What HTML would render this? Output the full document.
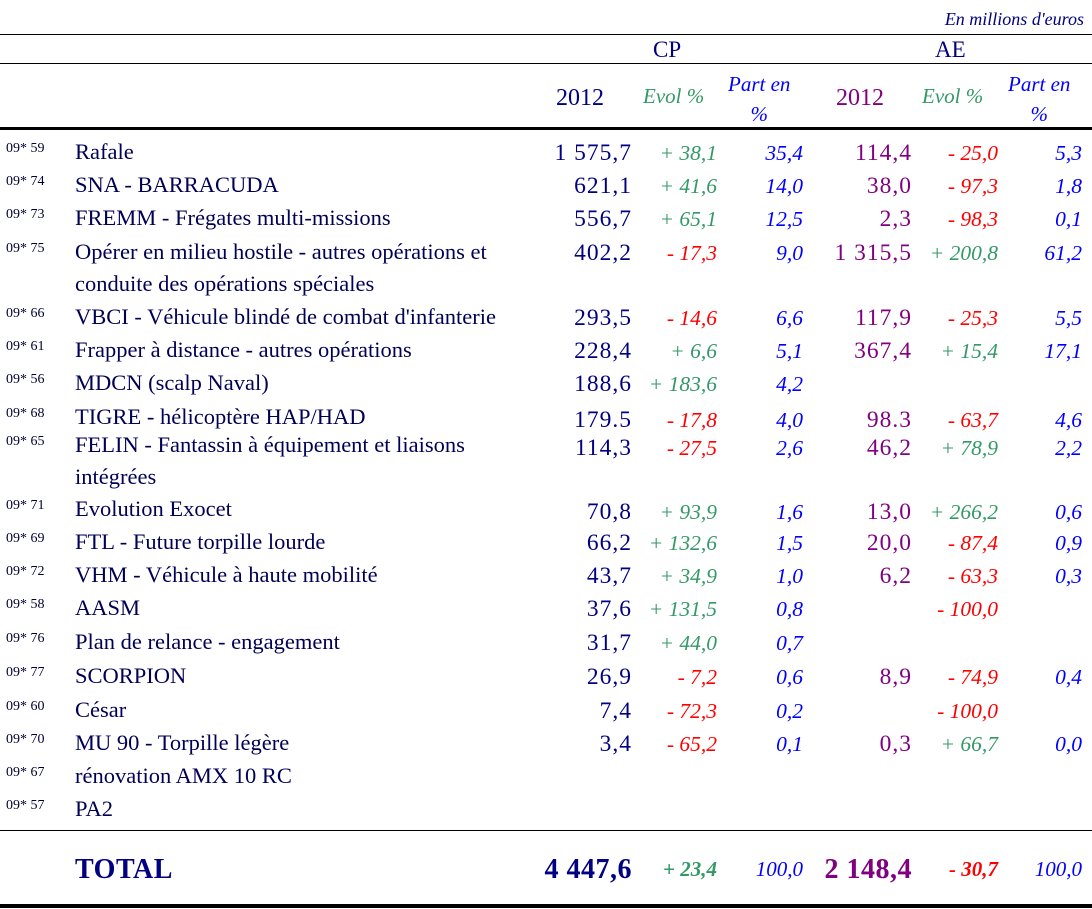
<!DOCTYPE html>
<html><head><meta charset="utf-8"><style>
body{margin:0;width:1092px;height:909px;background:#fff;position:relative;overflow:hidden;font-family:"Liberation Serif",serif;}
.a{position:absolute;white-space:nowrap;line-height:1;}
.ln{position:absolute;left:0;width:1092px;background:#000;}
.code{font-size:14px;color:#000033;}
.lab{font-size:22.5px;color:#000055;}
.num{font-size:23.5px;letter-spacing:1px;text-align:right;}
.it{font-style:italic;font-size:21.5px;text-align:right;}
</style></head><body>
<div class="a it" style="right:8px;top:10px;font-size:18px;color:#000080">En millions d'euros</div>
<div class="ln" style="top:34px;height:1px"></div>
<div class="a" style="left:653px;top:38px;font-size:23px;color:#000080">CP</div>
<div class="a" style="left:935px;top:38px;font-size:23px;color:#000080">AE</div>
<div class="ln" style="top:63px;height:1px"></div>
<div class="a" style="left:556px;top:86px;font-size:24px;color:#000080">2012</div>
<div class="a" style="left:643px;top:86px;font-size:21px;font-style:italic;color:#339966">Evol %</div>
<div class="a" style="left:728px;top:69px;font-size:21px;font-style:italic;color:#0000ff;text-align:center;line-height:30px">Part en<br>%</div>
<div class="a" style="left:836px;top:86px;font-size:24px;color:#800080">2012</div>
<div class="a" style="left:922px;top:86px;font-size:21px;font-style:italic;color:#339966">Evol %</div>
<div class="a" style="left:1008px;top:69px;font-size:21px;font-style:italic;color:#0000ff;text-align:center;line-height:30px">Part en<br>%</div>
<div class="ln" style="top:127px;height:3px"></div>
<div id="rows"></div>
<div class="ln" style="top:830px;height:1px"></div>
<div class="a" style="left:75px;top:856px;font-size:28px;font-weight:bold;color:#000080;letter-spacing:0.5px">TOTAL</div>
<div class="a" style="right:460px;top:856px;font-size:28px;font-weight:bold;color:#000080;letter-spacing:0.5px">4 447,6</div>
<div class="a" style="right:375px;top:859px;font-size:21px;font-weight:bold;font-style:italic;color:#339966">+ 23,4</div>
<div class="a" style="right:289px;top:859px;font-size:21px;font-style:italic;color:#0000ff">100,0</div>
<div class="a" style="right:180px;top:856px;font-size:28px;font-weight:bold;color:#800080;letter-spacing:0.5px">2 148,4</div>
<div class="a" style="right:94px;top:859px;font-size:21px;font-weight:bold;font-style:italic;color:#ff0000">- 30,7</div>
<div class="a" style="right:10px;top:859px;font-size:21px;font-style:italic;color:#0000ff">100,0</div>
<div class="ln" style="top:904px;height:4px"></div>
<script>
const codes=["59","74","73","75","66","61","56","68","65","71","69","72","58","76","77","60","70","67","57"];
const labels=["Rafale","SNA - BARRACUDA","FREMM - Frégates multi-missions","Opérer en milieu hostile - autres opérations et|conduite des opérations spéciales","VBCI - Véhicule blindé de combat d'infanterie","Frapper à distance - autres opérations","MDCN (scalp Naval)","TIGRE - hélicoptère HAP/HAD","FELIN - Fantassin à équipement et liaisons|intégrées","Evolution Exocet","FTL - Future torpille lourde","VHM - Véhicule à haute mobilité","AASM","Plan de relance - engagement","SCORPION","César","MU 90 - Torpille légère","rénovation AMX 10 RC","PA2"];
const cp=["1 575,7","621,1","556,7","402,2","293,5","228,4","188,6","179.5","114,3","70,8","66,2","43,7","37,6","31,7","26,9","7,4","3,4","",""];
const cpEvol=["+ 38,1","+ 41,6","+ 65,1","- 17,3","- 14,6","+ 6,6","+ 183,6","- 17,8","- 27,5","+ 93,9","+ 132,6","+ 34,9","+ 131,5","+ 44,0","- 7,2","- 72,3","- 65,2","",""];
const cpPart=["35,4","14,0","12,5","9,0","6,6","5,1","4,2","4,0","2,6","1,6","1,5","1,0","0,8","0,7","0,6","0,2","0,1","",""];
const ae=["114,4","38,0","2,3","1 315,5","117,9","367,4","","98.3","46,2","13,0","20,0","6,2","","","8,9","","0,3","",""];
const aeEvol=["- 25,0","- 97,3","- 98,3","+ 200,8","- 25,3","+ 15,4","","- 63,7","+ 78,9","+ 266,2","- 87,4","- 63,3","- 100,0","","- 74,9","- 100,0","+ 66,7","",""];
const aePart=["5,3","1,8","0,1","61,2","5,5","17,1","","4,6","2,2","0,6","0,9","0,3","","","0,4","","0,0","",""];
const rowTop=[143,176,209,243,308,341,374,408,436,500,533,566,599,633,667,701,734,767,800];
const numOff=[0,0,0,0,0,0,0,2,2,2,0,0,0,0,0,0,0,0,0];
const root=document.getElementById('rows');
function add(cls,txt,style,name){const d=document.createElement('div');d.className='a '+cls;d.textContent=txt;d.style.cssText=style;


root.appendChild(d);return d;}
codes.forEach((c,i)=>{
 const t=rowTop[i];
 add('code','09* '+c,'left:6px;top:'+(t-1)+'px','row-code');
 const parts=labels[i].split('|');
 parts.forEach((p,j)=>add('lab',p,'left:75px;top:'+(t-2+j*32)+'px','row-label'));
 const nt=t+numOff[i];
 if(cp[i])add('num',cp[i],'right:460px;top:'+(nt-1)+'px;color:#000080','cp-value');
 const ev=(v,r,n)=>{if(v)add('it',v,'right:'+r+'px;top:'+nt+'px;color:'+(v[0]=='+'?'#339966':'#ff0000'),n);};
 ev(cpEvol[i],375,'cp-evol');
 if(cpPart[i])add('it',cpPart[i],'right:289px;top:'+nt+'px;color:#0000ff','cp-part');
 if(ae[i])add('num',ae[i],'right:180px;top:'+(nt-1)+'px;color:#800080','ae-value');
 ev(aeEvol[i],94,'ae-evol');
 if(aePart[i])add('it',aePart[i],'right:10px;top:'+nt+'px;color:#0000ff','ae-part');
});
</script>
</body></html>
